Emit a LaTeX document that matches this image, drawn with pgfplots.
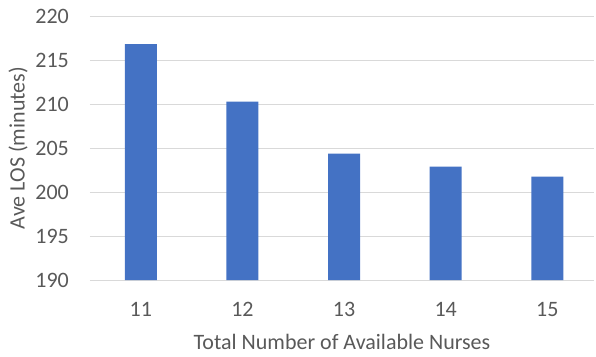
\documentclass[border=0pt]{standalone}
\usepackage{fontspec}
\setmainfont{Carlito}
\usepackage{pgfplots}
\pgfplotsset{compat=1.18}
\definecolor{barblue}{HTML}{4472C4}
\definecolor{txtgray}{HTML}{595959}
\definecolor{gridgray}{HTML}{D9D9D9}
\begin{document}
\begin{tikzpicture}
\path[use as bounding box] (-90pt,-76pt) rectangle (506pt,280pt);
\begin{axis}[
  at={(0pt,0pt)}, anchor=south west,
  scale only axis,
  width=504pt, height=264pt,
  xmin=-0.5, xmax=4.46,
  ymin=190, ymax=220,
  ytick={190,195,...,220},
  xtick={0,1,2,3,4},
  xticklabels={11,12,13,14,15},
  ymajorgrids,
  grid style={color=gridgray, line width=1pt},
  axis line style={draw=none},
  major tick length=0pt,
  /pgf/number format/assume math mode=true,
  tick label style={font=\fontsize{22}{26}\selectfont, text=txtgray, inner sep=0pt},
  yticklabel style={anchor=east, xshift=-21pt},
  xticklabel style={anchor=north, yshift=-22pt},
  every axis x label/.style={at={(axis description cs:0.5,0)}, anchor=base, yshift=-69pt, font=\fontsize{22}{26}\selectfont, text=txtgray},
  every axis y label/.style={at={(axis description cs:0,0.5)}, xshift=-72pt, rotate=90, anchor=center, font=\fontsize{22}{26}\selectfont, text=txtgray},
  xlabel={Total Number of Available Nurses},
  ylabel={Ave LOS (minutes)},
  ybar, bar width=32pt,
]
\addplot[fill=barblue, draw=none] coordinates {
  (0,216.8) (1,210.26) (2,204.36) (3,202.88) (4,201.74)
};
\end{axis}
\end{tikzpicture}
\end{document}
